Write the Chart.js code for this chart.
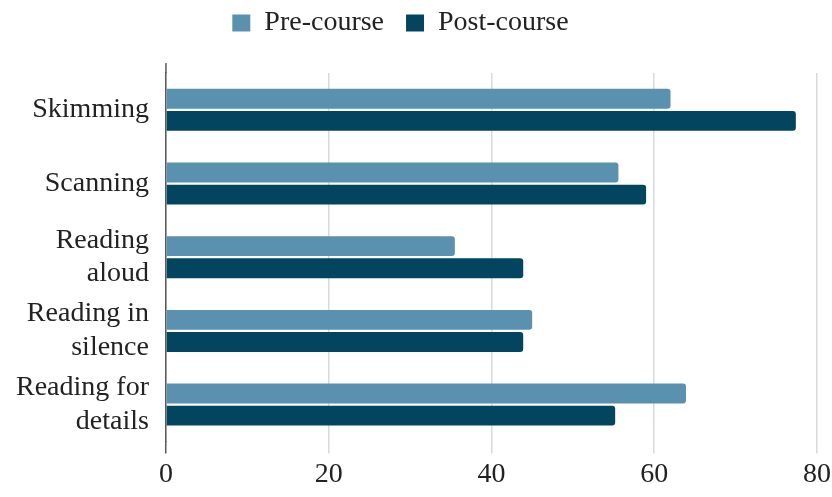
<!DOCTYPE html>
<html>
<head>
<meta charset="utf-8">
<script src="https://cdn.jsdelivr.net/npm/chart.js@4"></script>
<style>
  html, body { margin: 0; padding: 0; background: #ffffff; }
  #wrap { width: 832px; height: 497px; }
</style>
</head>
<body>
<div id="wrap"><canvas id="chart"></canvas></div>
<script>
// Reading skills, scores before and after the course
const categories = [
  "Skimming",
  "Scanning",
  ["Reading", "aloud"],
  ["Reading in", "silence"],
  ["Reading for", "details"]
];
const preCourse  = [62.0, 55.6, 35.5, 45.0, 63.9];
const postCourse = [77.4, 59.0, 43.9, 43.9, 55.2];
const xTicks = [0, 20, 40, 60, 80];

const PRE_COLOR = "#5a91ae";
const POST_COLOR = "#03445f";
const AXIS_COLOR = "#5a5a5a";
const GRID_COLOR = "#d9d9d9";
const TEXT_COLOR = "#222222";
const FONT = "'Liberation Serif', 'Times New Roman', serif";
const FONT_SIZE = 28;

// Short extension of the value axis line above the plot area
const axisCap = {
  id: "axisCap",
  afterDraw(chart) {
    const { ctx, chartArea, scales } = chart;
    const x = scales.x.getPixelForValue(0);
    ctx.save();
    ctx.strokeStyle = AXIS_COLOR;
    ctx.lineWidth = 1.5;
    ctx.beginPath();
    ctx.moveTo(x, chartArea.top - 10);
    ctx.lineTo(x, chartArea.top);
    ctx.stroke();
    ctx.restore();
  }
};

// Nudge the legend box up and slightly left of the default centred spot
const legendShift = {
  id: "legendShift",
  afterLayout(chart) {
    const lg = chart.legend;
    if (!lg) return;
    lg.top -= 26;
    lg.bottom -= 26;
    lg.left -= 30;
  }
};

new Chart(document.getElementById("chart"), {
  type: "bar",
  data: {
    labels: categories,
    datasets: [
      {
        label: "Pre-course",
        data: preCourse,
        backgroundColor: PRE_COLOR,
        borderRadius: 3,
        borderSkipped: "start",
        categoryPercentage: 0.6,
        barPercentage: 0.9
      },
      {
        label: "Post-course",
        data: postCourse,
        backgroundColor: POST_COLOR,
        borderRadius: 3,
        borderSkipped: "start",
        categoryPercentage: 0.6,
        barPercentage: 0.9
      }
    ]
  },
  options: {
    indexAxis: "y",
    responsive: true,
    maintainAspectRatio: false,
    animation: false,
    layout: { padding: { top: 13, right: 0, left: -1, bottom: 2 } },
    plugins: {
      legend: {
        position: "top",
        labels: {
          font: { family: FONT, size: FONT_SIZE },
          color: TEXT_COLOR,
          boxWidth: 18,
          boxHeight: 17,
          padding: 22
        }
      },
      tooltip: { enabled: false }
    },
    scales: {
      x: {
        min: 0,
        max: 80,
        afterBuildTicks(scale) {
          scale.ticks = xTicks.map(v => ({ value: v }));
        },
        afterFit(scale) {
          // let the last tick label sit closer to the right edge
          scale.paddingRight = Math.max(0, scale.paddingRight - 3);
        },
        grid: {
          color: GRID_COLOR,
          lineWidth: 1.5,
          tickLength: 12,
          tickColor: ctx => (ctx.tick && ctx.tick.value === 0 ? AXIS_COLOR : GRID_COLOR),
          drawTicks: true
        },
        border: { display: false },
        ticks: {
          font: { family: FONT, size: FONT_SIZE },
          color: TEXT_COLOR,
          padding: 4,
          maxRotation: 0
        }
      },
      y: {
        grid: { display: false, drawTicks: false },
        border: { display: true, color: AXIS_COLOR, width: 1.5 },
        ticks: {
          font: { family: FONT, size: FONT_SIZE, lineHeight: 1.2 },
          color: TEXT_COLOR,
          padding: 17
        }
      }
    }
  },
  plugins: [axisCap, legendShift]
});
</script>
</body>
</html>
